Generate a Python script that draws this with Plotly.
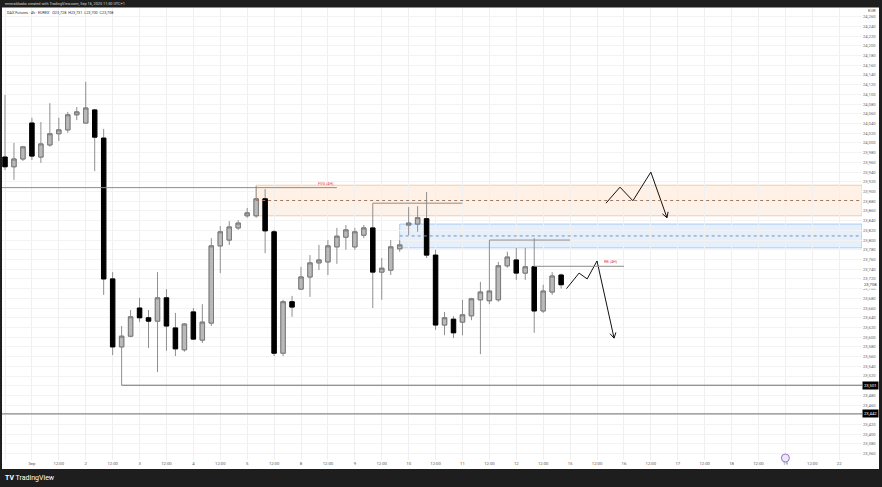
import math
import plotly.graph_objects as go

# ---------------- data (4h bars, DAX Futures) ----------------
bar_idx = list(range(63))
opens = [23971, 23951, 23967, 24041, 23971, 23996, 24019, 24027, 24058, 24041,
         24068, 24010, 23720, 23580, 23602, 23660, 23640, 23633, 23681, 23619,
         23574, 23652, 23594, 23629, 23788, 23800, 23825, 23850, 23850, 23885,
         23817, 23567, 23673, 23699, 23724, 23753, 23755, 23786, 23806, 23786,
         23810, 23825, 23734, 23738, 23782, 23831, 23833, 23844, 23769, 23625,
         23637, 23631, 23644, 23677, 23675, 23677, 23747, 23759, 23732, 23745,
         23654, 23693, 23728]
highs = [24099, 24000, 23994, 24052, 24043, 24082, 24052, 24064, 24074, 24126,
         24070, 24029, 23734, 23623, 23656, 23681, 23656, 23734, 23699, 23650,
         23629, 23660, 23668, 23804, 23829, 23839, 23841, 23866, 23911, 23905,
         23821, 23677, 23685, 23745, 23769, 23790, 23800, 23825, 23831, 23825,
         23831, 23876, 23763, 23800, 23800, 23868, 23870, 23899, 23780, 23652,
         23643, 23677, 23681, 23714, 23800, 23755, 23776, 23784, 23784, 23804,
         23708, 23734, 23731]
lows = [23944, 23924, 23963, 23965, 23959, 23992, 24004, 24021, 24047, 24041,
        23942, 23687, 23563, 23501, 23600, 23631, 23578, 23528, 23572, 23561,
        23570, 23594, 23588, 23623, 23732, 23790, 23821, 23846, 23846, 23773,
        23561, 23561, 23642, 23699, 23683, 23738, 23728, 23751, 23780, 23780,
        23804, 23660, 23677, 23728, 23776, 23810, 23817, 23763, 23615, 23604,
        23598, 23604, 23635, 23565, 23668, 23673, 23743, 23718, 23718, 23609,
        23650, 23687, 23700]
closes = [23951, 23967, 23992, 23973, 23998, 24019, 24027, 24058, 24064, 24072,
          24012, 23720, 23580, 23602, 23642, 23640, 23633, 23681, 23623, 23576,
          23627, 23596, 23631, 23788, 23817, 23827, 23835, 23856, 23885, 23819,
          23567, 23673, 23662, 23724, 23753, 23759, 23788, 23808, 23821, 23817,
          23825, 23734, 23742, 23786, 23790, 23835, 23846, 23769, 23625, 23640,
          23609, 23646, 23679, 23693, 23695, 23747, 23765, 23732, 23745, 23654,
          23695, 23726, 23708]

x_tick_pos = list(range(0, 94, 3))
x_tick_text = ["12:00", "Sep", "12:00", "2", "12:00", "3", "12:00", "4", "12:00", "5",
               "12:00", "8", "12:00", "9", "12:00", "10", "12:00", "11", "12:00", "12",
               "12:00", "15", "12:00", "16", "12:00", "17", "12:00", "18", "12:00", "19",
               "12:00", "22"]
y_tick_vals = list(range(23360, 24261, 20))

# drawings (bar index, price)
fvg_zone = [28, 23913, 23850]          # start bar, top, bottom
imb_zone = [44, 23833, 23784]
fvg_line = [-1, 37, 23908]             # from bar, to bar, price
rb_line = [59, 69, 23746]
high_lines = [[41, 51, 23876], [54, 63, 23800]]
low_ray = [13, 23501]
support_line = 23442
last_price = 23708
zig_up_x = [67.0, 68.56, 70.0, 72.0, 73.8]
zig_up_y = [23876, 23909, 23881, 23940, 23846]
zig_dn_x = [62.6, 64.0, 64.9, 66.0, 67.9]
zig_dn_y = [23700, 23732, 23720, 23757, 23598]

# ---------------- layout geometry ----------------
W, H = 882, 487
ML, MR, MT, MB = 2, 20, 8, 27
PW, PH = W - ML - MR, H - MT - MB
x_range = [-0.334, 95.54]
y_range = [23347, 24278]
ppx = PW / (x_range[1] - x_range[0])
ppy = PH / (y_range[1] - y_range[0])


def px_to_paper_x(px):
    return (px - ML) / PW


def px_to_paper_y(py):
    return (H - MB - py) / PH


fig = go.Figure()

# wicks
fig.add_trace(go.Candlestick(
    x=bar_idx, open=opens, high=highs, low=lows, close=closes,
    increasing=dict(line=dict(color="#8f8f8f", width=1), fillcolor="rgba(0,0,0,0)"),
    decreasing=dict(line=dict(color="#8f8f8f", width=1), fillcolor="rgba(0,0,0,0)"),
    hoverinfo="skip", showlegend=False))
# bodies
body_hi = [max(o, c) for o, c in zip(opens, closes)]
body_lo = [min(o, c) for o, c in zip(opens, closes)]
fig.add_trace(go.Candlestick(
    x=bar_idx, open=opens, high=body_hi, low=body_lo, close=closes,
    increasing=dict(line=dict(color="#7a7a7a", width=1), fillcolor="#b9b9b9"),
    decreasing=dict(line=dict(color="#000000", width=1), fillcolor="#000000"),
    hoverinfo="skip", showlegend=False))

shapes = []
# white chart surface
shapes.append(dict(type="rect", xref="paper", yref="paper", layer="below",
                   x0=px_to_paper_x(2), x1=px_to_paper_x(879),
                   y0=px_to_paper_y(469), y1=px_to_paper_y(7.5),
                   fillcolor="white", line=dict(width=0)))
# zones
shapes.append(dict(type="rect", xref="x", yref="y", layer="below",
                   x0=fvg_zone[0], x1=x_range[1], y0=fvg_zone[2], y1=fvg_zone[1],
                   fillcolor="rgba(255,160,80,0.15)", line=dict(color="rgba(230,175,130,0.6)", width=1)))
shapes.append(dict(type="line", xref="x", yref="y",
                   x0=fvg_zone[0], x1=x_range[1], y0=(fvg_zone[1] + fvg_zone[2]) / 2,
                   y1=(fvg_zone[1] + fvg_zone[2]) / 2,
                   line=dict(color="#a07868", width=1, dash="dot")))
shapes.append(dict(type="rect", xref="x", yref="y", layer="below",
                   x0=imb_zone[0], x1=x_range[1], y0=imb_zone[2], y1=imb_zone[1],
                   fillcolor="rgba(80,150,240,0.14)", line=dict(color="rgba(130,175,235,0.6)", width=1)))
shapes.append(dict(type="line", xref="x", yref="y",
                   x0=imb_zone[0], x1=x_range[1], y0=(imb_zone[1] + imb_zone[2]) / 2,
                   y1=(imb_zone[1] + imb_zone[2]) / 2,
                   line=dict(color="#7d8fa8", width=1, dash="dot")))
# horizontal lines
line_col = "#8c8c8c"
shapes.append(dict(type="line", xref="x", yref="y", x0=fvg_line[0], x1=fvg_line[1],
                   y0=fvg_line[2], y1=fvg_line[2], line=dict(color=line_col, width=1)))
shapes.append(dict(type="line", xref="x", yref="y", x0=rb_line[0], x1=rb_line[1],
                   y0=rb_line[2], y1=rb_line[2], line=dict(color=line_col, width=1)))
for a, b, p in high_lines:
    shapes.append(dict(type="line", xref="x", yref="y", x0=a, x1=b, y0=p, y1=p,
                       line=dict(color=line_col, width=1)))
shapes.append(dict(type="line", xref="x", yref="y", x0=low_ray[0], x1=x_range[1],
                   y0=low_ray[1], y1=low_ray[1], line=dict(color="#707070", width=1)))
shapes.append(dict(type="line", xref="paper", yref="y", x0=0, x1=1,
                   y0=support_line, y1=support_line, line=dict(color="#707070", width=1)))
# event marker
shapes.append(dict(type="circle", xref="x", yref="paper", xsizemode="pixel", ysizemode="pixel",
                   xanchor=87, yanchor=px_to_paper_y(458), x0=-4, x1=4, y0=-4, y1=4,
                   fillcolor="#ede7f6", line=dict(color="#9575cd", width=1)))

# zigzag paths
for xs, ys in [(zig_up_x, zig_up_y), (zig_dn_x, zig_dn_y)]:
    fig.add_trace(go.Scatter(x=xs, y=ys, mode="lines", line=dict(color="#111111", width=1),
                             hoverinfo="skip", showlegend=False))
    # chevron head
    dxp = (xs[-1] - xs[-2]) * ppx
    dyp = -(ys[-1] - ys[-2]) * ppy
    ang = math.atan2(dyp, dxp)
    hx, hy = [], []
    for s in (1, -1):
        a2 = ang + math.pi + s * math.radians(30)
        bx = xs[-1] + 6 * math.cos(a2) / ppx
        by = ys[-1] - 6 * math.sin(a2) / ppy
        hx += [bx, xs[-1]] if s == 1 else [bx]
        hy += [by, ys[-1]] if s == 1 else [by]
    fig.add_trace(go.Scatter(x=hx, y=hy, mode="lines", line=dict(color="#111111", width=1),
                             hoverinfo="skip", showlegend=False))

annotations = []
small = 4.2
annotations.append(dict(xref="paper", yref="paper", x=px_to_paper_x(3), y=px_to_paper_y(3.8),
                        xanchor="left", yanchor="middle", showarrow=False,
                        text="emeraldoaks created with TradingView.com, Sep 16, 2025 11:50 UTC+1",
                        font=dict(size=3.8, color="#d8d8d8", family="Roboto")))
annotations.append(dict(xref="paper", yref="paper", x=px_to_paper_x(5), y=px_to_paper_y(12),
                        xanchor="left", yanchor="middle", showarrow=False,
                        text="DAX Futures · 4h · EUREX   O23,728  H23,731  L23,700  C23,708",
                        font=dict(size=3.8, color="#333333", family="Roboto")))
annotations.append(dict(xref="paper", yref="paper", x=px_to_paper_x(866), y=px_to_paper_y(11),
                        xanchor="left", yanchor="middle", showarrow=False, text="EUR",
                        font=dict(size=small, color="#555555", family="Roboto")))
annotations.append(dict(xref="x", yref="y", x=fvg_line[1] - 0.1, y=fvg_line[2],
                        xanchor="right", yanchor="bottom", showarrow=False, text="FVG (4H)",
                        font=dict(size=3.8, color="#e0474c", family="Roboto")))
annotations.append(dict(xref="x", yref="y", x=rb_line[1] - 0.4, y=rb_line[2],
                        xanchor="right", yanchor="bottom", showarrow=False, text="RB (4H)",
                        font=dict(size=3.8, color="#e0474c", family="Roboto")))
for p in (low_ray[1], support_line):
    annotations.append(dict(xref="paper", yref="y", x=1.0, y=p, xanchor="left", yanchor="middle",
                            showarrow=False, text=f"{p:,}", bgcolor="#000000", borderpad=1,
                            font=dict(size=small, color="white", family="Roboto")))
annotations.append(dict(xref="paper", yref="y", x=1.0, y=last_price, xanchor="left", yanchor="middle",
                        showarrow=False, text=f"{last_price:,}", bgcolor="#ffffff", borderpad=1,
                        font=dict(size=small, color="#333333", family="Roboto")))
annotations.append(dict(xref="paper", yref="paper", x=px_to_paper_x(3), y=px_to_paper_y(478),
                        xanchor="left", yanchor="middle", showarrow=False,
                        text="<b>TV</b> TradingView",
                        font=dict(size=7, color="#ffffff", family="Roboto")))

fig.update_layout(
    width=W, height=H, autosize=False,
    margin=dict(l=ML, r=MR, t=MT, b=MB),
    paper_bgcolor="#1e1e1e", plot_bgcolor="white",
    shapes=shapes, annotations=annotations, showlegend=False,
    xaxis=dict(range=x_range, tickvals=x_tick_pos, ticktext=x_tick_text,
               tickfont=dict(size=small, color="#555555", family="Roboto"),
               showgrid=True, gridcolor="#f0f0f0", gridwidth=1, zeroline=False,
               showline=False, ticks="", rangeslider=dict(visible=False), fixedrange=True),
    yaxis=dict(range=y_range, side="right", tickvals=y_tick_vals,
               ticktext=[f"{v:,}" for v in y_tick_vals],
               tickfont=dict(size=small, color="#666666", family="Roboto"),
               showgrid=True, gridcolor="#f3f3f3", gridwidth=1, zeroline=False,
               showline=False, ticks=""),
)

fig.write_html("out.html", config={"displayModeBar": False},
               post_script="document.body.style.margin='0';document.body.style.overflow='hidden';")
